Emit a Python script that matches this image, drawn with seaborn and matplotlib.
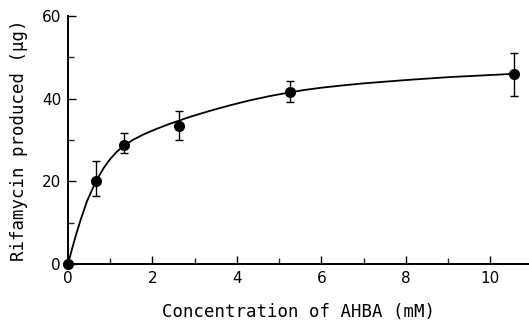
import matplotlib
matplotlib.use("Agg")
import matplotlib.pyplot as plt
import seaborn as sns
import pandas as pd
from matplotlib.ticker import MultipleLocator

# measured data points
conc = [0.0, 0.66, 1.32, 2.62, 5.25, 10.57]
rif = [0.0, 20.0, 28.9, 33.4, 41.5, 46.0]
err_low = [0.0, 3.5, 2.1, 3.4, 2.3, 5.3]
err_high = [0.0, 4.9, 2.7, 3.6, 2.7, 5.0]

# fitted curve
curve_x = [0, 0.1, 0.2, 0.3, 0.45, 0.66, 0.85, 1.0, 1.15, 1.33, 1.55, 1.8,
           2.1, 2.42, 2.89, 3.36, 3.84, 4.31, 4.79, 5.24, 5.6, 6.0, 6.5,
           7.0, 8.0, 9.0, 10.55]
curve_y = [0, 3.8, 7.4, 10.7, 15.2, 20.0, 23.3, 25.4, 27.1, 28.7, 30.1, 31.4,
           32.7, 33.95, 35.6, 37.05, 38.4, 39.6, 40.65, 41.5, 42.1, 42.65, 43.2,
           43.7, 44.5, 45.2, 46.0]

x_ticks = [0, 2, 4, 6, 8, 10]
y_ticks = [0, 20, 40, 60]

sns.set_theme(style="ticks")
plt.rcParams['font.family'] = ['DejaVu Sans']

fig = plt.figure(figsize=(5.29, 3.21), dpi=100)
ax = fig.add_axes([68/529, 57/321, 461/529, 248/321])

curve = pd.DataFrame({"x": curve_x, "y": curve_y})
sns.lineplot(data=curve, x="x", y="y", ax=ax, color="black", linewidth=1.3,
             sort=False)

ax.errorbar(conc, rif, yerr=[err_low, err_high], fmt="o", color="black",
            markersize=7, capsize=3, elinewidth=1.0, capthick=1.0,
            clip_on=False, zorder=5)

ax.set_xlim(0, 10.92)
ax.set_ylim(0, 60)
ax.set_xticks(x_ticks)
ax.set_yticks(y_ticks)
ax.xaxis.set_minor_locator(MultipleLocator(1))
ax.yaxis.set_minor_locator(MultipleLocator(10))
ax.tick_params(axis="both", which="major", direction="in", length=6, width=1.0,
               labelsize=11, colors="black", pad=5)
ax.tick_params(axis="both", which="minor", direction="in", length=4, width=1.0)
for s in ["top", "right"]:
    ax.spines[s].set_visible(False)
for s in ["left", "bottom"]:
    ax.spines[s].set_linewidth(1.4)
    ax.spines[s].set_color("black")

ax.set_xlabel("Concentration of AHBA (mM)", fontsize=12.5, labelpad=12,
              color="black", family="DejaVu Sans Mono")
ax.set_ylabel("Rifamycin produced (µg)", fontsize=12.5, labelpad=10,
              color="black", family="DejaVu Sans Mono")

fig.savefig("out.png", dpi=100)
